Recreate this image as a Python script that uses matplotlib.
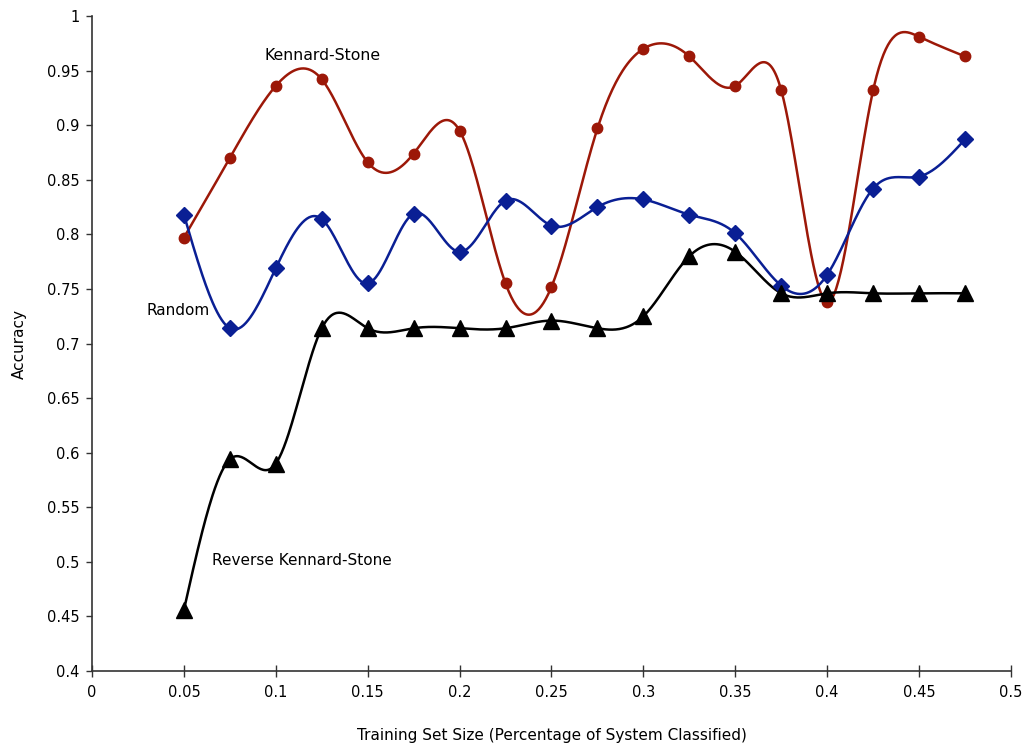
import numpy as np
import matplotlib
matplotlib.use("Agg")
import matplotlib.pyplot as plt

# training set fraction
sizes = [0.05, 0.075, 0.1, 0.125, 0.15, 0.175, 0.2, 0.225, 0.25, 0.275,
         0.3, 0.325, 0.35, 0.375, 0.4, 0.425, 0.45, 0.475]

kennard_stone = [0.797, 0.870, 0.936, 0.942, 0.866, 0.874, 0.895, 0.755, 0.752,
                 0.897, 0.970, 0.963, 0.936, 0.932, 0.738, 0.932, 0.981, 0.963]
random_sel = [0.818, 0.714, 0.769, 0.814, 0.755, 0.819, 0.784, 0.831, 0.808,
              0.825, 0.832, 0.818, 0.801, 0.753, 0.763, 0.842, 0.853, 0.887]
reverse_ks = [0.456, 0.594, 0.590, 0.714, 0.714, 0.714, 0.714, 0.714, 0.721,
              0.714, 0.725, 0.780, 0.784, 0.746, 0.746, 0.746, 0.746, 0.746]

xticks = [0, 0.05, 0.1, 0.15, 0.2, 0.25, 0.3, 0.35, 0.4, 0.45, 0.5]
xticklabels = ["0", "0.05", "0.1", "0.15", "0.2", "0.25", "0.3", "0.35", "0.4", "0.45", "0.5"]
yticks = [0.4, 0.45, 0.5, 0.55, 0.6, 0.65, 0.7, 0.75, 0.8, 0.85, 0.9, 0.95, 1.0]
yticklabels = ["0.4", "0.45", "0.5", "0.55", "0.6", "0.65", "0.7", "0.75", "0.8",
               "0.85", "0.9", "0.95", "1"]


def natural_spline(x, y, n=40):
    # natural cubic spline, only used to draw the smooth line between markers
    x = np.asarray(x, float)
    y = np.asarray(y, float)
    k = len(x)
    h = np.diff(x)
    A = np.zeros((k, k))
    b = np.zeros(k)
    A[0, 0] = 1
    A[-1, -1] = 1
    for i in range(1, k - 1):
        A[i, i - 1] = h[i - 1]
        A[i, i] = 2 * (h[i - 1] + h[i])
        A[i, i + 1] = h[i]
        b[i] = 6 * ((y[i + 1] - y[i]) / h[i] - (y[i] - y[i - 1]) / h[i - 1])
    M = np.linalg.solve(A, b)
    xs, ys = [], []
    for i in range(k - 1):
        t = np.linspace(x[i], x[i + 1], n, endpoint=(i == k - 2))
        a = x[i + 1] - t
        c = t - x[i]
        s = (M[i] * a ** 3 + M[i + 1] * c ** 3) / (6 * h[i]) \
            + (y[i] / h[i] - M[i] * h[i] / 6) * a \
            + (y[i + 1] / h[i] - M[i + 1] * h[i] / 6) * c
        xs.extend(t)
        ys.extend(s)
    return np.array(xs), np.array(ys)


fig = plt.figure(figsize=(10.27, 7.49), dpi=100)
ax = fig.add_axes([0.0896, 0.1041, 0.8948, 0.8745])

red = "#9c1808"
blue = "#0a1f94"

series = [
    (kennard_stone, red, "o", 7.5),
    (random_sel, blue, "D", 8),
    (reverse_ks, "black", "^", 11),
]
for vals, col, mk, ms in series:
    sx, sy = natural_spline(sizes, vals)
    ax.plot(sx, sy, color=col, lw=1.8, zorder=2)
    ax.plot(sizes, vals, linestyle="none", marker=mk, ms=ms, color=col, zorder=3)

ax.text(0.0941, 0.964, "Kennard-Stone", fontsize=11.3, va="center", ha="left")
ax.text(0.0294, 0.730, "Random", fontsize=11, va="center", ha="left")
ax.text(0.0653, 0.5017, "Reverse Kennard-Stone", fontsize=11, va="center", ha="left")

ax.set_xlim(0, 0.5)
ax.set_ylim(0.4, 1.0)
ax.set_xticks(xticks)
ax.set_xticklabels(xticklabels)
ax.set_yticks(yticks)
ax.set_yticklabels(yticklabels)

for s in ["top", "right"]:
    ax.spines[s].set_visible(False)
for s in ["left", "bottom"]:
    ax.spines[s].set_color("#333333")
    ax.spines[s].set_linewidth(1.2)

ax.tick_params(axis="x", direction="inout", length=8, width=1, colors="#333333",
               labelcolor="black", labelsize=10.5, pad=6)
ax.tick_params(axis="y", direction="out", length=4, width=1, colors="#333333",
               labelcolor="black", labelsize=10.5, pad=5)

ax.set_xlabel("Training Set Size (Percentage of System Classified)", fontsize=11, labelpad=20)
ax.set_ylabel("Accuracy", fontsize=11, labelpad=14)

fig.savefig("out.png", dpi=100)
